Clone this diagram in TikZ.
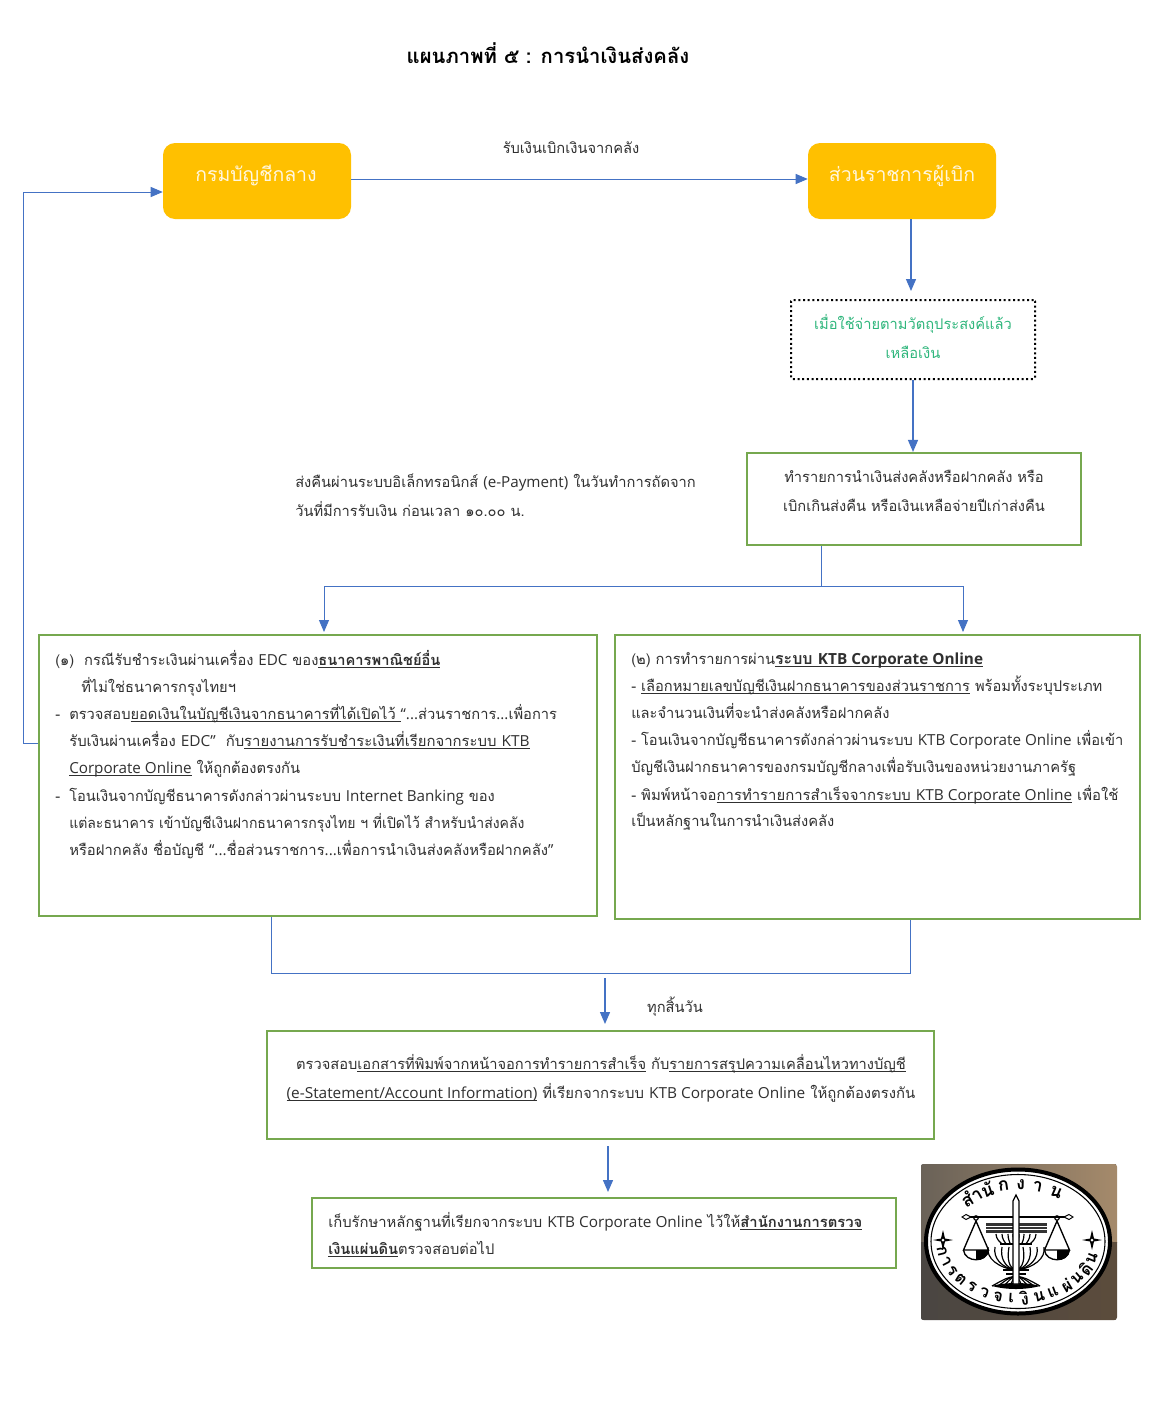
\documentclass[tikz,border=0pt]{standalone}
\usepackage{fontspec}
\setmainfont[Script=Thai]{Loma}
\newfontfamily\latf{Open Sans}
\usetikzlibrary{arrows.meta}
\definecolor{flow}{HTML}{4472C4}
\definecolor{okgreen}{HTML}{76A84F}
\definecolor{amber}{HTML}{FFC000}
\definecolor{mint}{HTML}{2FB67C}
\definecolor{ink}{HTML}{303030}
\definecolor{bgTL}{HTML}{6A6258}
\definecolor{bgTM}{HTML}{3A3835}
\definecolor{bgTR}{HTML}{A58A6B}
\definecolor{bgBL}{HTML}{4A4642}
\definecolor{bgBM}{HTML}{6F5F4E}
\definecolor{bgBR}{HTML}{5C4C3C}
\newcommand\ul[1]{\underline{\smash{#1}}}
\newcommand\la[1]{{\latf\fontsize{11.4}{13}\selectfont #1}}
\tikzset{
 px/.style={x=0.75pt,y=-0.75pt},
 conn/.style={draw=flow,line width=0.65pt},
 arr/.style={conn,-{Triangle[length=9pt,width=7.5pt]}},
 heavy/.style={line width=1pt},
 gbox/.style={draw=okgreen,line width=1.6pt,fill=white,inner sep=0pt},
 obox/.style={fill=amber,rounded corners=9pt,inner sep=0pt},
 olab/.style={anchor=base,inner sep=0pt,text=white!88!amber,font=\fontsize{14.6}{18}\selectfont},
 lnl/.style={anchor=base west,inner sep=0pt,text=ink,font=\fontsize{11}{13}\selectfont},
 lnc/.style={anchor=base,inner sep=0pt,text=ink,font=\fontsize{11}{13}\selectfont},
 embt/.style={inner sep=0pt,font=\fontsize{13.5}{15}\selectfont\bfseries,text=black},
 embb/.style={inner sep=0pt,font=\fontsize{12.5}{14}\selectfont\bfseries,text=black},
}
\begin{document}
\begin{tikzpicture}[px]
\useasboundingbox (0,0) rectangle (1160,1407);
\fill[white] (0,0) rectangle (1160,1407);
\node[anchor=base,inner sep=0pt,font=\fontsize{15.2}{18}\selectfont\bfseries,text=black] (title) at (548,63) {แผนภาพที่ ๕ : การนำเงินส่งคลัง};

\node[obox,minimum width=141pt,minimum height=57pt] (cgd) at (257,181) {};
\node[olab] (cgdt) at (256,181) {กรมบัญชีกลาง};
\node[obox,minimum width=141pt,minimum height=57pt] (agency) at (902,181) {};
\node[olab] (agencyt) at (902,181) {ส่วนราชการผู้เบิก};

\node[lnc] (lbA) at (571,153) {รับเงินเบิกเงินจากคลัง};
\coordinate (aL) at (351,179);
\draw[arr] (cgd.east |- aL) -- (agency.west |- aL);

\node[draw=black,line width=1.5pt,dotted,rounded corners=1pt,minimum width=183pt,minimum height=59.25pt,inner sep=0pt] (dot) at (913,339.5) {};
\node[lnc,text=mint] (dot1) at (913,329) {เมื่อใช้จ่ายตามวัตถุประสงค์แล้ว};
\node[lnc,text=mint] (dot2) at (913,358) {เหลือเงิน};
\coordinate (a1) at (911,219);
\coordinate (a2) at (911,291);
\draw[arr,heavy] (a1) -- (a2);

\node[gbox,minimum width=250.5pt,minimum height=69pt] (proc) at (914,499) {};
\node[lnc] (p1) at (914,482) {ทำรายการนำเงินส่งคลังหรือฝากคลัง หรือ};
\node[lnc] (p2) at (914,511) {เบิกเกินส่งคืน หรือเงินเหลือจ่ายปีเก่าส่งคืน};
\draw[arr,heavy] (dot.south) -- (dot.south |- proc.north);

\node[lnl] (n1) at (295,487) {ส่งคืนผ่านระบบอิเล็กทรอนิกส์ \la{(e-Payment)} ในวันทำการถัดจาก};
\node[lnl] (n2) at (295,516) {วันที่มีการรับเงิน ก่อนเวลา ๑๐.๐๐ น.};

\node[gbox,minimum width=418.5pt,minimum height=210.75pt] (left) at (318,775.5) {};
\node[gbox,minimum width=393.75pt,minimum height=213pt] (right) at (877.5,777) {};

\coordinate (sp) at (821,586);
\coordinate (spL) at (324,586);
\coordinate (spR) at (963,586);
\coordinate (tL) at (324,632);
\coordinate (tR) at (963,632);
\draw[conn] (proc.south -| sp) -- (sp);
\draw[conn] (spL) -- (spR);
\draw[arr] (spL) -- (tL);
\draw[arr] (spR) -- (tR);

% feedback
\coordinate (fb1) at (39,743);
\coordinate (fb2) at (23,743);
\coordinate (fb3) at (23,192);
\coordinate (fb4) at (163,192);
\draw[arr] (left.west |- fb1) -- (fb2) -- (fb3) -- (cgd.west |- fb4);

% left box text
\node[lnl] (l1) at (55,665) {(๑)\ \ กรณีรับชำระเงินผ่านเครื่อง \la{EDC} ของ\ul{\textbf{ธนาคารพาณิชย์อื่น}}};
\node[lnl] (l2) at (81,692) {ที่ไม่ใช่ธนาคารกรุงไทยฯ};
\node[lnl] (l3d) at (55,719) {-};
\node[lnl] (l3) at (69,719) {ตรวจสอบ\ul{ยอดเงินในบัญชีเงินจากธนาคารที่ได้เปิดไว้ }\la{“...}ส่วนราชการ\la{...}เพื่อการ};
\node[lnl,xscale=1.015] (l4) at (69,746) {รับเงินผ่านเครื่อง \la{EDC”}\ \ กับ\ul{รายงานการรับชำระเงินที่เรียกจากระบบ \la{KTB}}};
\node[lnl] (l5) at (69,773) {\ul{\la{Corporate Online}} ให้ถูกต้องตรงกัน};
\node[lnl] (l6d) at (55,801) {-};
\node[lnl] (l6) at (69,801) {โอนเงินจากบัญชีธนาคารดังกล่าวผ่านระบบ \la{Internet Banking} ของ};
\node[lnl,xscale=0.956] (l7) at (69,828) {แต่ละธนาคาร เข้าบัญชีเงินฝากธนาคารกรุงไทย ฯ ที่เปิดไว้ สำหรับนำส่งคลัง};
\node[lnl,xscale=1.01] (l8) at (69,855) {หรือฝากคลัง ชื่อบัญชี \la{“...}ชื่อส่วนราชการ\la{...}เพื่อการนำเงินส่งคลังหรือฝากคลัง\la{”}};

% right box text
\node[lnl] (r1) at (631,664) {(๒) การทำรายการผ่าน\ul{\textbf{\fontsize{12}{14}\selectfont ระบบ {\latf\fontsize{11.5}{14}\selectfont KTB Corporate Online}}}};
\node[lnl] (r2) at (631,691) {- \ul{เลือกหมายเลขบัญชีเงินฝากธนาคารของส่วนราชการ} พร้อมทั้งระบุประเภท};
\node[lnl] (r3) at (631,718) {และจำนวนเงินที่จะนำส่งคลังหรือฝากคลัง};
\node[lnl] (r4) at (631,745) {- โอนเงินจากบัญชีธนาคารดังกล่าวผ่านระบบ \la{KTB Corporate Online} เพื่อเข้า};
\node[lnl] (r5) at (631,772) {บัญชีเงินฝากธนาคารของกรมบัญชีกลางเพื่อรับเงินของหน่วยงานภาครัฐ};
\node[lnl,xscale=1.015] (r6) at (631,800) {- พิมพ์หน้าจอ\ul{การทำรายการสำเร็จจากระบบ \la{KTB Corporate Online}} เพื่อใช้};
\node[lnl] (r7) at (631,826) {เป็นหลักฐานในการนำเงินส่งคลัง};

% merge
\coordinate (mL) at (271,973);
\coordinate (mR) at (910,973);
\draw[conn] (left.south -| mL) -- (mL) -- (mR) -- (right.south -| mR);
\coordinate (d1) at (605,978);
\coordinate (d2) at (605,1024);
\draw[arr,heavy] (d1) -- (d2);
\node[lnc] (lbD) at (675,1012) {ทุกสิ้นวัน};

\node[gbox,minimum width=500.25pt,minimum height=81pt] (check) at (600.5,1085) {};
\node[lnc] (c1) at (601,1069) {ตรวจสอบ\ul{เอกสารที่พิมพ์จากหน้าจอการทำรายการสำเร็จ} กับ\ul{รายการสรุปความเคลื่อนไหวทางบัญชี}};
\node[lnc,xscale=1.015] (c2) at (601,1098) {\ul{\la{(e-Statement/Account Information)}} ที่เรียกจากระบบ \la{KTB Corporate Online} ให้ถูกต้องตรงกัน};

\node[gbox,minimum width=438pt,minimum height=52.5pt] (keep) at (604,1233) {};
\node[lnl,xscale=1.01] (k1) at (328,1227) {เก็บรักษาหลักฐานที่เรียกจากระบบ \la{KTB Corporate Online} ไว้ให้\ul{\textbf{สำนักงานการตรวจ}}};
\node[lnl] (k2) at (328,1254) {\ul{\textbf{เงินแผ่นดิน}}ตรวจสอบต่อไป};
\coordinate (e1) at (608,1146);
\coordinate (e2) at (608,1192);
\draw[arr,heavy] (e1) -- (e2);

% emblem background
\begin{scope}
\clip[rounded corners=2pt] (921,1164) rectangle (1117,1320);
\fill[left color=bgTL,middle color=bgTM,right color=bgTR] (921,1164) rectangle (1117,1242);
\fill[left color=bgBL,middle color=bgBM,right color=bgBR] (921,1242) rectangle (1117,1320);
\end{scope}
\filldraw[fill=white,draw=black,line width=3pt] (1018,1241.5) ellipse [x radius=92,y radius=72];
\draw[black,line width=0.8pt] (1018,1241.5) ellipse [x radius=87,y radius=67];
\foreach \t/\c in {128/สำ,114/นั,101/ก,88/ง,75/า,60/น}{
 \pgfmathsetmacro\ex{1018+76*cos(\t)}
 \pgfmathsetmacro\ey{1241.5-57*sin(\t)}
 \pgfmathsetmacro\rt{atan2(-57*cos(\t),76*sin(\t))}
 \node[embt,rotate=\rt] at (\ex,\ey) {\c};
}
\foreach \t/\c in {190/ก,201/า,211/ร,222/ต,233/ร,244/ว,255/จ,265/เ,275/งิ,286/น,297/แ,309/ผ่,320/น,331/ดิ,343/น}{
 \pgfmathsetmacro\ex{1018+77*cos(\t)}
 \pgfmathsetmacro\ey{1241.5-57*sin(\t)}
 \pgfmathsetmacro\rt{atan2(57*cos(\t),-77*sin(\t))}
 \node[embb,rotate=\rt] at (\ex,\ey) {\c};
}
% beam and table
\draw[black,line width=1.6pt] (967,1217) -- (1068,1217);
\filldraw[fill=white,draw=black,line width=0.7pt] (962,1217) -- (966,1214.5) -- (971,1217) -- (966,1219.5) -- cycle;
\filldraw[fill=white,draw=black,line width=0.7pt] (1064,1217) -- (1069,1214.5) -- (1073,1217) -- (1069,1219.5) -- cycle;
\fill[black!80] (986,1223) rectangle (1047,1233);
\foreach \y in {1226,1229.5}{\draw[white,line width=0.5pt] (986,\y) -- (1047,\y);}
% pans
\foreach \cx in {976,1057}{
 \draw[black,line width=0.9pt] (\cx,1218) circle [radius=2.2];
 \draw[black,line width=1pt] (\cx,1221) -- (\cx-12.5,1250) -- (\cx+12.5,1250) -- cycle;
 \draw[black,line width=1pt] (\cx-12.5,1250) .. controls (\cx-11,1263) and (\cx+11,1263) .. (\cx+12.5,1250);
 \fill[black] (\cx,1250) -- (\cx+12.5,1250) .. controls (\cx+11.5,1258) and (\cx+6,1260) .. (\cx,1260) -- cycle;
}
% lotus: upper bars
\foreach \dx in {-20,-14,-8,-3,3,8,14,20}{\draw[black,line width=0.9pt] (1016+\dx,1234) .. controls (1016+\dx,1239) and (1016+.8*\dx,1242) .. (1016+.7*\dx,1244);}
\draw[black,line width=1pt] (1000,1244) -- (1032,1244);
% lotus: bulb
\foreach \k in {0,7,14,21,28}{
 \draw[black,line width=0.9pt] (1016,1270) .. controls (1016-\k*.5-4,1268) and (1016-\k-2,1258) .. (1016-\k,1247);
 \draw[black,line width=0.9pt] (1016,1270) .. controls (1016+\k*.5+4,1268) and (1016+\k+2,1258) .. (1016+\k,1247);
}
\draw[black,line width=1pt] (1003,1270) -- (1029,1270);
\draw[black,line width=1pt] (1006,1274) -- (1026,1274);
% lotus: fan base
\foreach \k in {6,12,18,24}{
 \draw[black,line width=0.9pt] (1016,1276) .. controls (1016-\k*.4,1278) .. (1016-\k,1286);
 \draw[black,line width=0.9pt] (1016,1276) .. controls (1016+\k*.4,1278) .. (1016+\k,1286);
}
\fill[black] (992,1286) .. controls (1005,1282) and (1027,1282) .. (1040,1286) .. controls (1025,1290) and (1007,1290) .. (992,1286) -- cycle;
% pillar
\filldraw[fill=white,draw=black,line width=0.9pt] (1013,1284) -- (1013,1201) -- (1016,1195) -- (1019,1201) -- (1019,1284) -- cycle;
% stars
\foreach \sx in {943,1092}{
 \fill[black] (\sx-10,1240) -- (\sx-2,1238.5) -- (\sx,1230) -- (\sx+2,1238.5) -- (\sx+10,1240) -- (\sx+2,1241.5) -- (\sx,1250) -- (\sx-2,1241.5) -- cycle;
 \fill[white] (\sx,1240) circle [radius=1.5];
}
\end{tikzpicture}
\end{document}
